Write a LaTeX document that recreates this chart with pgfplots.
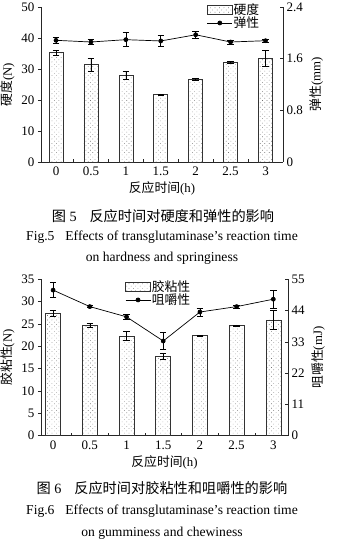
\documentclass[border=0pt]{standalone}
\usepackage{fontspec}
\setmainfont{Liberation Serif}
\newfontfamily\cjk{Noto Sans CJK SC}
\usepackage{pgfplots}
\pgfplotsset{compat=1.18}
\usetikzlibrary{patterns.meta}

\tikzdeclarepattern{
  name=mydots,
  type=uncolored,
  bottom left={(-0.6bp,-0.6bp)},
  top right={(3.6bp,3.6bp)},
  tile size={(3.2bp,3.2bp)},
  tile transformation={rotate=45},
  code={\pgfpathcircle{\pgfpointorigin}{0.42bp}\pgfusepath{fill}}
}

\newcommand\tfs{\fontsize{13bp}{14bp}\selectfont}
\newcommand\lfs{\fontsize{12.8bp}{14bp}\selectfont}
\newcommand\cfs{\fontsize{14.2bp}{16bp}\selectfont}
\newcommand\efs{\fontsize{13.6bp}{15bp}\selectfont}

\pgfplotsset{
  base/.style={
    scale only axis,
    xmin=-0.43, xmax=6.5,
    axis line style={line width=0.7bp, black!85},
    tick style={line width=0.6bp, black!85},
    tick label style={font=\tfs},
    label style={font=\lfs},
    /pgf/number format/assume math mode=true,
    major tick length=3bp,
    minor tick length=3bp,
    clip=false,
  },
  leftax/.style={
    base,
    axis x line*=bottom,
    axis y line*=left,
    xtick={0,...,6},
    xticklabels={0,0.5,1,1.5,2,2.5,3},
    minor xtick={0.5,1.5,...,5.5},
    major x tick style={draw=none},
    xtick align=inside,
    ytick align=outside,
    xticklabel style={yshift=-1.5bp},
    xlabel style={yshift=1bp},
    legend style={draw=none, fill=none, font=\lfs, inner sep=0pt, row sep=-1bp,
      nodes={inner sep=1bp}},
    legend cell align=left,
  },
  rightax/.style={
    base,
    axis x line=none,
    axis y line*=right,
    ytick align=inside,
  },
  linelegend/.style={black, line width=0.7bp, mark=*, mark size=2bp,
    legend image code/.code={\draw[mark repeat=2,mark phase=2,##1] plot coordinates {(0bp,0bp) (12.5bp,0bp) (25bp,0bp)};}},
  barsty/.style={ybar, draw=black!80, line width=0.6bp, pattern={mydots}, pattern color=black!55,
    area legend,
    legend image code/.code={\draw[##1] (0bp,-4.5bp) rectangle (25bp,4.5bp);},
    error bars/.cd, y dir=both, y explicit,
    error bar style={black, line width=0.6bp},
    error mark options={rotate=90, mark size=3.2bp, line width=0.6bp, black}},
  linesty/.style={black, line width=0.7bp, mark=*, mark size=2bp,
    error bars/.cd, y dir=both, y explicit,
    error bar style={black, line width=0.6bp},
    error mark options={rotate=90, mark size=3.2bp, line width=0.6bp, black}},
}

\begin{document}
\begin{tikzpicture}
\path[use as bounding box] (0,0) rectangle (364bp,544bp);

% ---------- Figure 5 ----------
\begin{axis}[leftax, at={(41bp,382bp)}, anchor=south west,
  width=242bp, height=155bp,
  ymin=0, ymax=50, ytick={0,10,...,50},
  ylabel={{\cjk 硬度}(N)},
  xlabel={{\cjk 反应时间}(h)},
  legend style={at={(0.685,1.03)}, anchor=north west}]
\addplot[bar width=14bp, barsty] coordinates {
  (0,35.3) +- (0,0.75)
  (1,31.5) +- (0,2.1)
  (2,28.0) +- (0,1.4)
  (3,21.8) +- (0,0.15)
  (4,26.6) +- (0,0.4)
  (5,32.1) +- (0,0.4)
  (6,33.4) +- (0,2.5)
};
\addlegendentry{\cjk 硬度}
\addlegendimage{linelegend}
\addlegendentry{\cjk 弹性}
\end{axis}
\begin{axis}[rightax, at={(41bp,382bp)}, anchor=south west,
  width=242bp, height=155bp,
  ymin=0, ymax=2.4, ytick={0,0.8,1.6,2.4},
  ylabel={{\cjk 弹性}(mm)}]
\addplot[linesty] coordinates {
  (0,1.884) +- (0,0.05)
  (1,1.858) +- (0,0.04)
  (2,1.894) +- (0,0.11)
  (3,1.874) +- (0,0.085)
  (4,1.970) +- (0,0.055)
  (5,1.858) +- (0,0.03)
  (6,1.878) +- (0,0.025)
};
\end{axis}

\node[font=\cfs] at (163bp,328bp) {{\cjk 图}\hspace{0.25em}5\hspace{0.9em}{\cjk 反应时间对硬度和弹性的影响}};
\node[font=\efs] at (162bp,306.5bp) {Fig.5\hspace{0.8em}Effects of transglutaminase’s reaction time};
\node[font=\efs] at (162bp,286bp) {on hardness and springiness};

% ---------- Figure 6 ----------
\begin{axis}[leftax, at={(41bp,108.3bp)}, anchor=south west,
  width=247bp, height=156.4bp,
  xmin=-0.33, xmax=6.4,
  ymin=0, ymax=35, ytick={0,5,...,35},
  ylabel={{\cjk 胶粘性}(N)},
  xlabel={{\cjk 反应时间}(h)},
  legend style={at={(0.34,1.0)}, anchor=north west}]
\addplot[bar width=15bp, barsty] coordinates {
  (0,27.4) +- (0,0.7)
  (1,24.7) +- (0,0.4)
  (2,22.3) +- (0,1.0)
  (3,17.8) +- (0,0.7)
  (4,22.4) +- (0,0.1)
  (5,24.6) +- (0,0.2)
  (6,25.9) +- (0,2.2)
};
\addlegendentry{\cjk 胶粘性}
\addlegendimage{linelegend}
\addlegendentry{\cjk 咀嚼性}
\end{axis}
\begin{axis}[rightax, at={(41bp,108.3bp)}, anchor=south west,
  width=247bp, height=156.4bp,
  xmin=-0.33, xmax=6.4,
  ymin=0, ymax=55, ytick={0,11,...,55},
  ylabel={{\cjk 咀嚼性}(mJ)}]
\addplot[linesty] coordinates {
  (0,51.2) +- (0,2.7)
  (1,45.4) +- (0,0.4)
  (2,41.8) +- (0,1.0)
  (3,33.3) +- (0,2.9)
  (4,43.5) +- (0,1.4)
  (5,45.4) +- (0,0.5)
  (6,48.0) +- (0,3.3)
};
\end{axis}

\node[font=\cfs] at (162bp,56bp) {{\cjk 图}\hspace{0.25em}6\hspace{0.9em}{\cjk 反应时间对胶粘性和咀嚼性的影响}};
\node[font=\efs] at (162bp,33bp) {Fig.6\hspace{0.8em}Effects of transglutaminase’s reaction time};
\node[font=\efs] at (162bp,11bp) {on gumminess and chewiness};
\end{tikzpicture}
\end{document}
